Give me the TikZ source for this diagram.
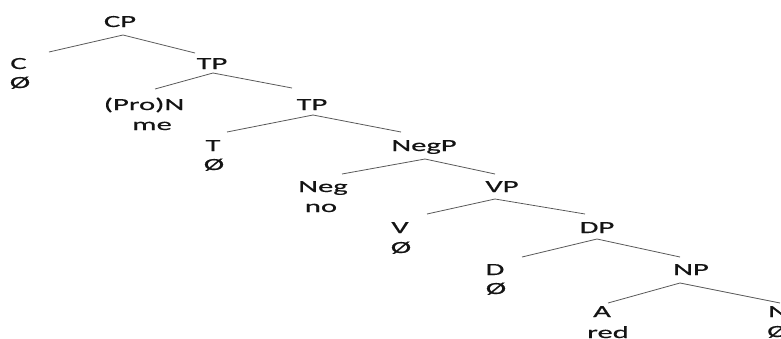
\documentclass[tikz,border=0pt]{standalone}
\usepackage{fontspec}
\setmainfont{Carlito}[FakeStretch=1.8,FakeBold=0.6]
\begin{document}
\begin{tikzpicture}[x=1pt,y=-1pt,
  lbl/.style={anchor=base,inner sep=0pt,font=\fontsize{17}{17}\selectfont,text=black!92},
  branch/.style={draw=black!65,line width=0.8pt}]
\useasboundingbox (0,0) rectangle (781,338);
\clip (0,0) rectangle (781,338);
% labels
\node[lbl] (CP) at (120,27) {CP};
\node[lbl] (C) at (18.5,69) {C};
\node[lbl] (Cz) at (20,88) {Ø};
\node[lbl] (TP1) at (212,69) {TP};
\node[lbl] (ProN) at (144,110) {(Pro)N};
\node[lbl] (me) at (152,130) {me};
\node[lbl] (TP2) at (312,110) {TP};
\node[lbl] (T) at (213,151) {T};
\node[lbl] (Tz) at (214,170) {Ø};
\node[lbl] (NegP) at (424,151) {NegP};
\node[lbl] (Neg) at (323,192) {Neg};
\node[lbl] (no) at (321,212) {no};
\node[lbl] (VP) at (502,192) {VP};
\node[lbl] (V) at (400,233) {V};
\node[lbl] (Vz) at (401,253) {Ø};
\node[lbl] (DP) at (597,233) {DP};
\node[lbl] (D) at (495,275) {D};
\node[lbl] (Dz) at (496,294) {Ø};
\node[lbl] (NP) at (691,275) {NP};
\node[lbl] (A) at (602,317) {A};
\node[lbl] (red) at (608,338) {red};
\node[lbl,anchor=base west] (N) at (768,317) {N};
\node[lbl,anchor=base west] (Nz) at (767,337) {Ø};
% branch points
\coordinate (cpA) at (123,35);  \coordinate (cpL) at (49,52);   \coordinate (cpR) at (195,53);
\coordinate (tpA) at (213,73);  \coordinate (tpL) at (155,89);  \coordinate (tpR) at (292,88);
\coordinate (tqA) at (313,115); \coordinate (tqL) at (227,132); \coordinate (tqR) at (401,132);
\coordinate (ngA) at (425,159); \coordinate (ngL) at (342,174); \coordinate (ngR) at (495,174);
\coordinate (vpA) at (495,199); \coordinate (vpL) at (427,214); \coordinate (vpR) at (585,214);
\coordinate (dpA) at (597,239); \coordinate (dpL) at (522,257); \coordinate (dpR) at (680,257);
\coordinate (npA) at (680,283); \coordinate (npL) at (608,303); \coordinate (npR) at (780,303);
\draw[branch] (cpL) -- (cpA) -- (cpR);
\draw[branch] (tpL) -- (tpA) -- (tpR);
\draw[branch] (tqL) -- (tqA) -- (tqR);
\draw[branch] (ngL) -- (ngA) -- (ngR);
\draw[branch] (vpL) -- (vpA) -- (vpR);
\draw[branch] (dpL) -- (dpA) -- (dpR);
\draw[branch] (npL) -- (npA) -- (npR);
\end{tikzpicture}
\end{document}
